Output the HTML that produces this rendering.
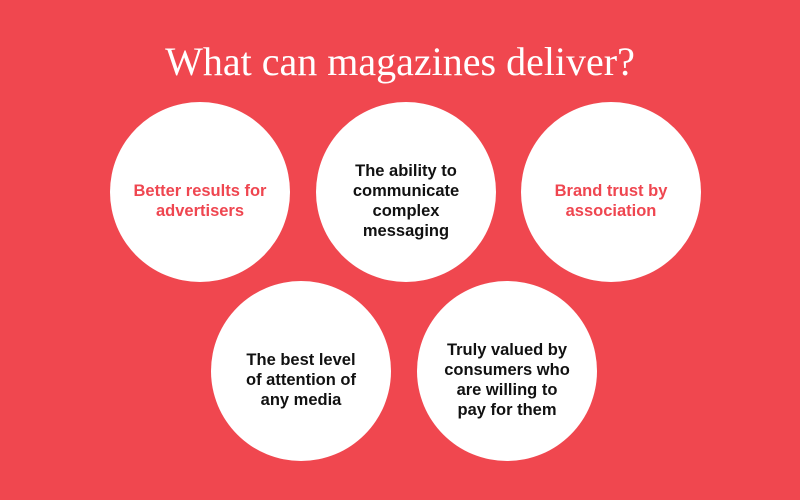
<!DOCTYPE html>
<html><head><style>
html,body{margin:0;padding:0}
body{width:800px;height:500px;background:#f0474f;position:relative;overflow:hidden;font-family:"Liberation Sans",sans-serif}
h1{position:absolute;top:38px;left:0;width:800px;margin:0;text-align:center;font-family:"Liberation Serif",serif;font-weight:normal;font-size:40px;color:#fff;line-height:48px}
.c{position:absolute;width:180px;height:180px;border-radius:50%;background:#fff;display:flex;align-items:center;justify-content:center;text-align:center;font-weight:bold;font-size:16.5px;line-height:20px;color:#111}
.c span{display:block;width:170px;position:relative;top:9px}
.r{color:#ef4650}
</style></head><body>
<h1>What can magazines deliver?</h1>
<div class="c r" style="left:110px;top:102px"><span>Better results for<br>advertisers</span></div>
<div class="c" style="left:316px;top:102px"><span>The ability to<br>communicate<br>complex<br>messaging</span></div>
<div class="c r" style="left:521px;top:102px"><span>Brand trust by<br>association</span></div>
<div class="c" style="left:211px;top:281px"><span>The best level<br>of attention of<br>any media</span></div>
<div class="c" style="left:417px;top:281px"><span>Truly valued by<br>consumers who<br>are willing to<br>pay for them</span></div>
</body></html>
